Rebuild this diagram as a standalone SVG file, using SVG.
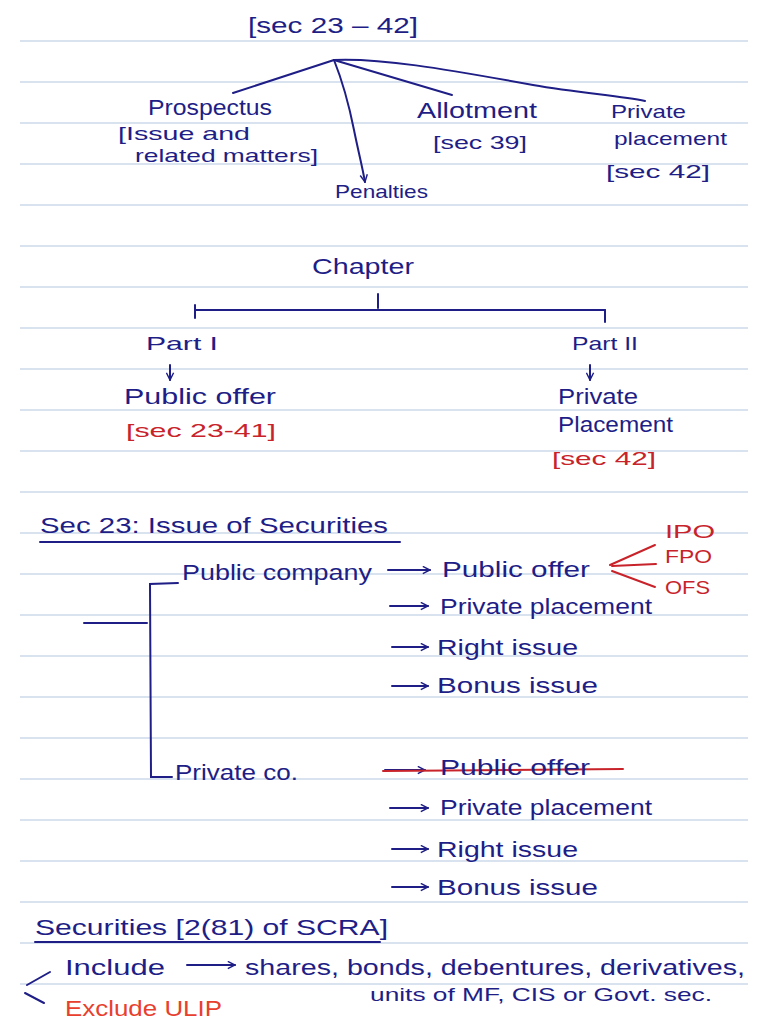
<svg xmlns="http://www.w3.org/2000/svg" width="768" height="1024" viewBox="0 0 768 1024">
<defs>
<style>
.rule{stroke:#b4c6e0;stroke-width:1.2}
text{font-family:"Liberation Sans","DejaVu Sans",sans-serif;fill:#1e1e86;font-size:22px}
.s{font-size:19px}
.r{fill:#c8232a}
.rb{fill:#e8402e}
.c{stroke:#1e1e86;stroke-width:2;fill:none;stroke-linecap:round}
.cr{stroke:#c8232a;stroke-width:2;fill:none;stroke-linecap:round}
</style>
<marker id="ah" viewBox="0 0 10 10" refX="9" refY="5" markerWidth="9" markerHeight="9" orient="auto" markerUnits="userSpaceOnUse">
<path d="M1,1 L9,5 L1,9" fill="none" stroke="#1e1e86" stroke-width="1.6"/>
</marker>
</defs>
<rect width="768" height="1024" fill="#ffffff"/>
<g id="rules">
<line class="rule" x1="20" y1="41" x2="748" y2="41"/>
<line class="rule" x1="20" y1="82" x2="748" y2="82"/>
<line class="rule" x1="20" y1="123" x2="748" y2="123"/>
<line class="rule" x1="20" y1="164" x2="748" y2="164"/>
<line class="rule" x1="20" y1="205" x2="748" y2="205"/>
<line class="rule" x1="20" y1="246" x2="748" y2="246"/>
<line class="rule" x1="20" y1="287" x2="748" y2="287"/>
<line class="rule" x1="20" y1="328" x2="748" y2="328"/>
<line class="rule" x1="20" y1="369" x2="748" y2="369"/>
<line class="rule" x1="20" y1="410" x2="748" y2="410"/>
<line class="rule" x1="20" y1="451" x2="748" y2="451"/>
<line class="rule" x1="20" y1="492" x2="748" y2="492"/>
<line class="rule" x1="20" y1="533" x2="748" y2="533"/>
<line class="rule" x1="20" y1="574" x2="748" y2="574"/>
<line class="rule" x1="20" y1="615" x2="748" y2="615"/>
<line class="rule" x1="20" y1="656" x2="748" y2="656"/>
<line class="rule" x1="20" y1="697" x2="748" y2="697"/>
<line class="rule" x1="20" y1="738" x2="748" y2="738"/>
<line class="rule" x1="20" y1="779" x2="748" y2="779"/>
<line class="rule" x1="20" y1="820" x2="748" y2="820"/>
<line class="rule" x1="20" y1="861" x2="748" y2="861"/>
<line class="rule" x1="20" y1="902" x2="748" y2="902"/>
<line class="rule" x1="20" y1="943" x2="748" y2="943"/>
<line class="rule" x1="20" y1="984" x2="748" y2="984"/>
</g>

<g id="connectors">
<line class="c" x1="334" y1="60" x2="233" y2="93"/>
<line class="c" x1="334" y1="60" x2="452" y2="95"/>
<path class="c" d="M334,60 C380,58 440,68 533,85 C580,93 620,96 645,101"/>
<path class="c" d="M334,60 C342,80 350,110 354,130 C358,150 362,165 365,182" marker-end="url(#ah)"/>
<line class="c" x1="378" y1="294" x2="378" y2="308"/>
<line class="c" x1="195" y1="310" x2="605" y2="310"/>
<line class="c" x1="195" y1="305" x2="195" y2="318"/>
<line class="c" x1="605" y1="310" x2="605" y2="322"/>
<line class="c" x1="170" y1="365" x2="170" y2="380" marker-end="url(#ah)"/>
<line class="c" x1="590" y1="365" x2="590" y2="380" marker-end="url(#ah)"/>
<line class="c" x1="40" y1="542" x2="400" y2="542"/>
<line class="c" x1="84" y1="623" x2="147" y2="623"/>
<path class="c" d="M178,583 L150,584 L151,777 L172,777"/>
<line class="c" x1="388" y1="570" x2="430" y2="570" marker-end="url(#ah)"/>
<line class="c" x1="390" y1="606" x2="428" y2="606" marker-end="url(#ah)"/>
<line class="c" x1="392" y1="647" x2="428" y2="647" marker-end="url(#ah)"/>
<line class="c" x1="392" y1="686" x2="428" y2="686" marker-end="url(#ah)"/>
<line class="c" x1="385" y1="770" x2="425" y2="770" marker-end="url(#ah)"/>
<line class="c" x1="390" y1="808" x2="428" y2="808" marker-end="url(#ah)"/>
<line class="c" x1="392" y1="849" x2="428" y2="849" marker-end="url(#ah)"/>
<line class="c" x1="392" y1="887" x2="428" y2="887" marker-end="url(#ah)"/>
<line class="cr" x1="610" y1="565" x2="655" y2="545"/>
<line class="cr" x1="612" y1="566" x2="656" y2="564"/>
<line class="cr" x1="612" y1="571" x2="655" y2="587"/>
<line class="cr" x1="383" y1="771" x2="623" y2="769"/>
<line class="c" x1="35" y1="942" x2="380" y2="942"/>
<line class="c" x1="187" y1="965" x2="235" y2="965" marker-end="url(#ah)"/>
<line class="c" x1="27" y1="985" x2="50" y2="972"/>
<line class="c" x1="25" y1="993" x2="44" y2="1003"/>
</g>

<g id="root"><text x="248" y="33" font-size="26" textLength="170" lengthAdjust="spacingAndGlyphs">[sec 23 – 42]</text></g>
<g id="prospectus">
<text x="148" y="115" textLength="124" lengthAdjust="spacingAndGlyphs">Prospectus</text>
<text class="s" x="118" y="140" textLength="132" lengthAdjust="spacingAndGlyphs">[Issue and</text>
<text class="s" x="135" y="162" textLength="183" lengthAdjust="spacingAndGlyphs">related matters]</text>
</g>
<g id="penalties"><text class="s" x="335" y="198" textLength="93" lengthAdjust="spacingAndGlyphs">Penalties</text></g>
<g id="allotment">
<text x="417" y="118" textLength="120" lengthAdjust="spacingAndGlyphs">Allotment</text>
<text class="s" x="433" y="149" textLength="94" lengthAdjust="spacingAndGlyphs">[sec 39]</text>
</g>
<g id="private-top">
<text class="s" x="611" y="118" textLength="75" lengthAdjust="spacingAndGlyphs">Private</text>
<text class="s" x="614" y="145" textLength="113" lengthAdjust="spacingAndGlyphs">placement</text>
<text class="s" x="606" y="178" textLength="104" lengthAdjust="spacingAndGlyphs">[sec 42]</text>
</g>

<g id="chapter"><text x="312" y="274" textLength="102" lengthAdjust="spacingAndGlyphs">Chapter</text></g>
<g id="part1">
<text class="s" x="146" y="350" textLength="72" lengthAdjust="spacingAndGlyphs">Part I</text>
<text x="124" y="404" textLength="152" lengthAdjust="spacingAndGlyphs">Public offer</text>
<text class="s r" x="126" y="437" textLength="150" lengthAdjust="spacingAndGlyphs">[sec 23-41]</text>
</g>
<g id="part2">
<text class="s" x="572" y="350" textLength="66" lengthAdjust="spacingAndGlyphs">Part II</text>
<text x="558" y="404" textLength="80" lengthAdjust="spacingAndGlyphs">Private</text>
<text x="558" y="432" textLength="115" lengthAdjust="spacingAndGlyphs">Placement</text>
<text class="s r" x="552" y="465" textLength="104" lengthAdjust="spacingAndGlyphs">[sec 42]</text>
</g>

<g id="sec23"><text x="40" y="533" textLength="348" lengthAdjust="spacingAndGlyphs">Sec 23: Issue of Securities</text></g>
<g id="public-company"><text x="182" y="580" textLength="190" lengthAdjust="spacingAndGlyphs">Public company</text></g>
<g id="pc-items">
<text x="442" y="577" textLength="148" lengthAdjust="spacingAndGlyphs">Public offer</text>
<text x="440" y="614" textLength="212" lengthAdjust="spacingAndGlyphs">Private placement</text>
<text x="437" y="655" textLength="141" lengthAdjust="spacingAndGlyphs">Right issue</text>
<text x="437" y="693" textLength="161" lengthAdjust="spacingAndGlyphs">Bonus issue</text>
</g>
<g id="offer-types">
<text class="s r" x="665" y="538" textLength="50" lengthAdjust="spacingAndGlyphs">IPO</text>
<text class="s r" x="665" y="563" textLength="47" lengthAdjust="spacingAndGlyphs">FPO</text>
<text class="s r" x="665" y="594" textLength="45" lengthAdjust="spacingAndGlyphs">OFS</text>
</g>
<g id="private-co"><text x="175" y="780" textLength="123" lengthAdjust="spacingAndGlyphs">Private co.</text></g>
<g id="pvt-items">
<text x="440" y="775" textLength="150" lengthAdjust="spacingAndGlyphs">Public offer</text>
<text x="440" y="815" textLength="212" lengthAdjust="spacingAndGlyphs">Private placement</text>
<text x="437" y="857" textLength="141" lengthAdjust="spacingAndGlyphs">Right issue</text>
<text x="437" y="895" textLength="161" lengthAdjust="spacingAndGlyphs">Bonus issue</text>
</g>

<g id="securities"><text x="35" y="935" textLength="353" lengthAdjust="spacingAndGlyphs">Securities [2(81) of SCRA]</text></g>
<g id="include">
<text x="65" y="975" textLength="100" lengthAdjust="spacingAndGlyphs">Include</text>
<text x="245" y="975" textLength="500" lengthAdjust="spacingAndGlyphs">shares, bonds, debentures, derivatives,</text>
<text class="s" x="370" y="1001" textLength="342" lengthAdjust="spacingAndGlyphs">units of MF, CIS or Govt. sec.</text>
</g>
<g id="exclude"><text class="rb" x="65" y="1016" textLength="157" lengthAdjust="spacingAndGlyphs">Exclude ULIP</text></g>
</svg>
